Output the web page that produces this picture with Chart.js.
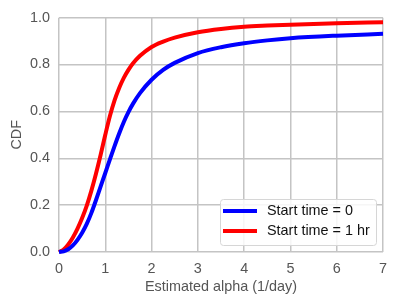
<!DOCTYPE html>
<html>
<head>
<meta charset="utf-8">
<script src="https://cdn.jsdelivr.net/npm/chart.js@4"></script>
<style>
    html, body { margin: 0; padding: 0; background: #fff; }
    canvas { display: block; }
</style>
</head>
<body>
<canvas id="grafico-cdf" width="398" height="305"></canvas>
<script>
// valores
const alphaValues = [0, 0.1, 0.2, 0.3, 0.4, 0.5, 0.6, 0.7, 0.8, 0.9, 1.0, 1.1, 1.2, 1.3, 1.4, 1.5, 1.6, 1.75, 2.0, 2.25, 2.5, 3.0, 3.5, 4.0, 4.5, 5.0, 6.0, 7.0];
const cdfStart0 = [0, 0.003, 0.012, 0.028, 0.052, 0.082, 0.12, 0.167, 0.222, 0.28, 0.337, 0.395, 0.452, 0.506, 0.555, 0.597, 0.633, 0.678, 0.735, 0.777, 0.807, 0.849, 0.874, 0.891, 0.903, 0.912, 0.923, 0.931];
const cdfStart1hr = [0, 0.01, 0.032, 0.062, 0.1, 0.145, 0.198, 0.262, 0.335, 0.415, 0.5, 0.58, 0.647, 0.7, 0.743, 0.777, 0.805, 0.837, 0.875, 0.898, 0.915, 0.938, 0.952, 0.961, 0.966, 0.97, 0.976, 0.98];
const seriesLabels = ['Start time = 0', 'Start time = 1 hr'];
const seriesColors = ['#0000ff', '#ff0000'];
const yTicks = [0, 0.2, 0.4, 0.6, 0.8, 1.0];
const xTicks = [0, 1, 2, 3, 4, 5, 6, 7];

const FONTE = "'Liberation Sans', Arial, sans-serif";
const TAM = 14.4;
const COR_TEXTO = '#555555';
const COR_GRADE = '#c4c4c4';

function pontos(valores) {
    return alphaValues.map((x, i) => ({ x: x, y: valores[i] }));
}

// legenda desenhada dentro da área do gráfico
const legendaInterna = {
    id: 'legendaInterna',
    afterDraw(chart) {
        const ctx = chart.ctx;
        const area = chart.chartArea;
        const w = 156, h = 46;
        const x0 = area.right - 7 - w;
        const y0 = area.bottom - 7 - h;
        ctx.save();
        ctx.beginPath();
        ctx.roundRect(x0 + 0.5, y0 + 0.5, w, h, 3);
        ctx.fillStyle = 'rgba(255,255,255,0.85)';
        ctx.fill();
        ctx.strokeStyle = '#d6d6d6';
        ctx.lineWidth = 1;
        ctx.stroke();
        ctx.font = TAM + 'px ' + FONTE;
        ctx.textBaseline = 'middle';
        chart.data.datasets.forEach((ds, i) => {
            const y = y0 + 12 + i * 20;
            ctx.beginPath();
            ctx.moveTo(x0 + 3, y);
            ctx.lineTo(x0 + 37, y);
            ctx.strokeStyle = ds.borderColor;
            ctx.lineWidth = 4;
            ctx.stroke();
            ctx.fillStyle = '#111';
            ctx.fillText(ds.label, x0 + 47, y + 0.5);
        });
        ctx.restore();
    }
};

const ctx = document.getElementById('grafico-cdf').getContext('2d');
new Chart(ctx, {
    type: 'line',
    data: {
        datasets: [
            { label: seriesLabels[0], data: pontos(cdfStart0), borderColor: seriesColors[0], borderWidth: 4, pointRadius: 0, fill: false, cubicInterpolationMode: 'monotone' },
            { label: seriesLabels[1], data: pontos(cdfStart1hr), borderColor: seriesColors[1], borderWidth: 4, pointRadius: 0, fill: false, cubicInterpolationMode: 'monotone' }
        ]
    },
    options: {
        responsive: false,
        animation: false,
        clip: false,
        layout: { padding: { left: 8, top: 15, right: 15, bottom: 9 } },
        plugins: {
            legend: { display: false },
            tooltip: { enabled: false }
        },
        scales: {
            x: {
                type: 'linear',
                min: 0,
                max: 7,
                afterFit(scale) { scale.height = 44; },
                afterBuildTicks(scale) { scale.ticks = xTicks.map(v => ({ value: v })); },
                grid: { color: COR_GRADE, lineWidth: 1.5, drawTicks: false },
                border: { display: false },
                ticks: {
                    color: COR_TEXTO,
                    font: { family: FONTE, size: TAM },
                    padding: 8,
                    maxRotation: 0,
                    callback: v => String(v)
                },
                title: {
                    display: true,
                    text: 'Estimated alpha (1/day)',
                    color: COR_TEXTO,
                    font: { family: FONTE, size: TAM },
                    padding: { top: 3, bottom: 0 }
                }
            },
            y: {
                type: 'linear',
                min: 0,
                max: 1,
                afterFit(scale) { scale.width = 51; },
                afterBuildTicks(scale) { scale.ticks = yTicks.map(v => ({ value: v })); },
                grid: { color: COR_GRADE, lineWidth: 1.5, drawTicks: false },
                border: { display: false },
                ticks: {
                    color: COR_TEXTO,
                    font: { family: FONTE, size: TAM },
                    padding: 9,
                    callback: v => Number(v).toFixed(1)
                },
                title: {
                    display: true,
                    text: 'CDF',
                    color: COR_TEXTO,
                    font: { family: FONTE, size: TAM },
                    padding: { top: 0, bottom: 0 }
                }
            }
        }
    },
    plugins: [legendaInterna]
});
</script>
</body>
</html>
